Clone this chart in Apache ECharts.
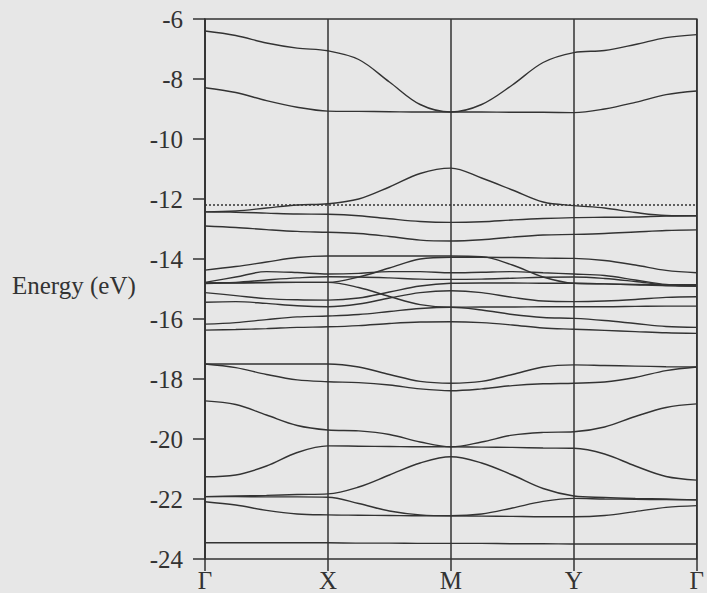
<!DOCTYPE html>
<html><head><meta charset="utf-8">
<script src="https://cdn.jsdelivr.net/npm/echarts@6/dist/echarts.min.js"></script>
<style>html,body{margin:0;padding:0;background:#e7e7e7}#c{width:707px;height:593px}</style>
</head><body><div id="c"></div>
<script>
// k-path positions: 0=Γ, 1=X, 2=M, 3=Y, 4=Γ ; samples every quarter segment
const kLabels = ['Γ','X','M','Y','Γ'];
const kPos = [0,0.25,0.5,0.75,1,1.25,1.5,1.75,2,2.25,2.5,2.75,3,3.25,3.5,3.75,4];
const fermiLevel = -12.2;
const yTicks = [-24,-22,-20,-18,-16,-14,-12,-10,-8,-6];

const bandA  = [-6.4,-6.55,-6.8,-6.97,-7.06,-7.35,-8.1,-8.85,-9.1,-8.85,-8.2,-7.45,-7.12,-7.05,-6.85,-6.62,-6.52];
const bandB  = [-8.29,-8.45,-8.72,-8.94,-9.07,-9.08,-9.09,-9.1,-9.1,-9.1,-9.11,-9.11,-9.12,-9.0,-8.78,-8.52,-8.4];
const bandC1 = [-12.43,-12.4,-12.3,-12.2,-12.16,-12.0,-11.6,-11.15,-10.97,-11.3,-11.7,-12.1,-12.22,-12.3,-12.45,-12.55,-12.56];
const bandC2 = [-12.43,-12.44,-12.47,-12.5,-12.51,-12.56,-12.66,-12.75,-12.78,-12.76,-12.7,-12.65,-12.62,-12.61,-12.6,-12.57,-12.56];
const bandD  = [-12.9,-12.95,-13.02,-13.08,-13.11,-13.15,-13.25,-13.37,-13.4,-13.36,-13.27,-13.2,-13.18,-13.15,-13.1,-13.05,-13.03];
const bandP1 = [-14.37,-14.25,-14.1,-13.95,-13.9,-13.9,-13.9,-13.9,-13.9,-13.92,-14.2,-14.6,-14.81,-14.83,-14.85,-14.86,-14.86];
const bandP2 = [-14.8,-14.8,-14.79,-14.78,-14.78,-14.6,-14.3,-14.0,-13.94,-13.94,-13.95,-13.97,-13.98,-14.05,-14.2,-14.38,-14.46];
const bandP3 = [-14.78,-14.6,-14.42,-14.45,-14.5,-14.48,-14.42,-14.42,-14.46,-14.44,-14.42,-14.46,-14.5,-14.55,-14.7,-14.85,-14.9];
const bandP4 = [-14.82,-14.78,-14.7,-14.63,-14.59,-14.6,-14.63,-14.67,-14.68,-14.67,-14.64,-14.61,-14.6,-14.65,-14.75,-14.86,-14.9];
const bandP5 = [-15.12,-15.22,-15.32,-15.36,-15.37,-15.3,-15.1,-14.9,-14.81,-14.8,-14.8,-14.81,-14.81,-14.83,-14.86,-14.89,-14.9];
const bandPd = [-14.8,-14.79,-14.78,-14.78,-14.78,-14.95,-15.25,-15.52,-15.61,-15.6,-15.6,-15.59,-15.59,-15.59,-15.58,-15.57,-15.57];
const bandPr = [-15.44,-15.42,-15.48,-15.56,-15.59,-15.5,-15.3,-15.12,-15.06,-15.12,-15.28,-15.4,-15.42,-15.4,-15.35,-15.28,-15.26];
const bandP7 = [-16.17,-16.12,-16.02,-15.93,-15.9,-15.85,-15.75,-15.65,-15.61,-15.7,-15.85,-15.95,-15.98,-16.05,-16.15,-16.25,-16.28];
const bandP8 = [-16.37,-16.35,-16.32,-16.28,-16.26,-16.22,-16.15,-16.1,-16.09,-16.12,-16.2,-16.3,-16.34,-16.38,-16.42,-16.46,-16.48];
const bandL1 = [-17.5,-17.5,-17.5,-17.5,-17.5,-17.6,-17.85,-18.08,-18.14,-18.08,-17.85,-17.6,-17.53,-17.55,-17.57,-17.59,-17.6];
const bandL2 = [-17.5,-17.62,-17.85,-18.03,-18.09,-18.12,-18.2,-18.33,-18.39,-18.33,-18.22,-18.16,-18.14,-18.1,-17.95,-17.72,-17.6];
const bandB1 = [-18.73,-18.85,-19.2,-19.55,-19.7,-19.73,-19.85,-20.1,-20.26,-20.1,-19.87,-19.78,-19.76,-19.6,-19.25,-18.95,-18.83];
const bandB2 = [-21.26,-21.2,-20.9,-20.45,-20.23,-20.24,-20.25,-20.26,-20.26,-20.27,-20.28,-20.3,-20.31,-20.5,-20.9,-21.25,-21.37];
const bandB3 = [-21.92,-21.9,-21.88,-21.85,-21.83,-21.6,-21.2,-20.8,-20.59,-20.8,-21.2,-21.65,-21.9,-21.95,-21.98,-22.0,-22.03];
const bandB4 = [-21.92,-21.92,-21.93,-21.93,-21.94,-22.15,-22.4,-22.53,-22.56,-22.5,-22.3,-22.08,-21.98,-22.0,-22.01,-22.02,-22.03];
const bandB5 = [-22.09,-22.2,-22.38,-22.5,-22.53,-22.54,-22.55,-22.56,-22.56,-22.57,-22.58,-22.59,-22.59,-22.55,-22.42,-22.28,-22.22];
const bandB6 = [-23.46,-23.46,-23.46,-23.46,-23.46,-23.47,-23.47,-23.48,-23.48,-23.48,-23.49,-23.49,-23.5,-23.5,-23.5,-23.5,-23.5];

const bands = [bandA,bandB,bandC1,bandC2,bandD,bandP1,bandP2,bandP3,bandP4,bandP5,bandPd,bandPr,bandP7,bandP8,bandL1,bandL2,bandB1,bandB2,bandB3,bandB4,bandB5,bandB6];

const FONT = 'Liberation Serif, Times New Roman, serif';
const INK = '#333';
const chart = echarts.init(document.getElementById('c'), null, {renderer:'svg'});
const series = bands.map(b => ({
  type:'line', data:b.map((v,i)=>[kPos[i],v]), showSymbol:false, smooth:0.35,
  lineStyle:{color:INK, width:1.4}, silent:true, animation:false
}));
series.push({type:'line', data:[[0,fermiLevel],[4,fermiLevel]], showSymbol:false,
  lineStyle:{color:INK, width:1.4, type:[2,2]}, silent:true, animation:false});
chart.setOption({
  backgroundColor:'#e7e7e7',
  animation:false,
  grid:{left:205, right:7, top:19, bottom:33, show:true, borderColor:INK, borderWidth:1.5, backgroundColor:'transparent'},
  xAxis:{type:'value', min:0, max:4, interval:1,
    axisLine:{show:false}, axisTick:{show:true, length:12, lineStyle:{color:INK, width:1.5}},
    axisLabel:{margin:9, fontFamily:FONT, fontSize:25, color:INK, formatter:v=>kLabels[v]},
    splitLine:{show:true, lineStyle:{color:INK, width:1.5}}},
  yAxis:{type:'value', min:yTicks[0], max:yTicks[yTicks.length-1], interval:2,
    axisLine:{show:true, lineStyle:{color:INK, width:1.5}},
    axisTick:{show:true, length:12, lineStyle:{color:INK, width:1.5}},
    axisLabel:{margin:22, fontFamily:FONT, fontSize:25, color:INK},
    splitLine:{show:false}},
  graphic:[{type:'text', left:12, top:273, style:{text:'Energy (eV)', font:'25px '+FONT, fill:INK}}],
  series:series
});
</script></body></html>
